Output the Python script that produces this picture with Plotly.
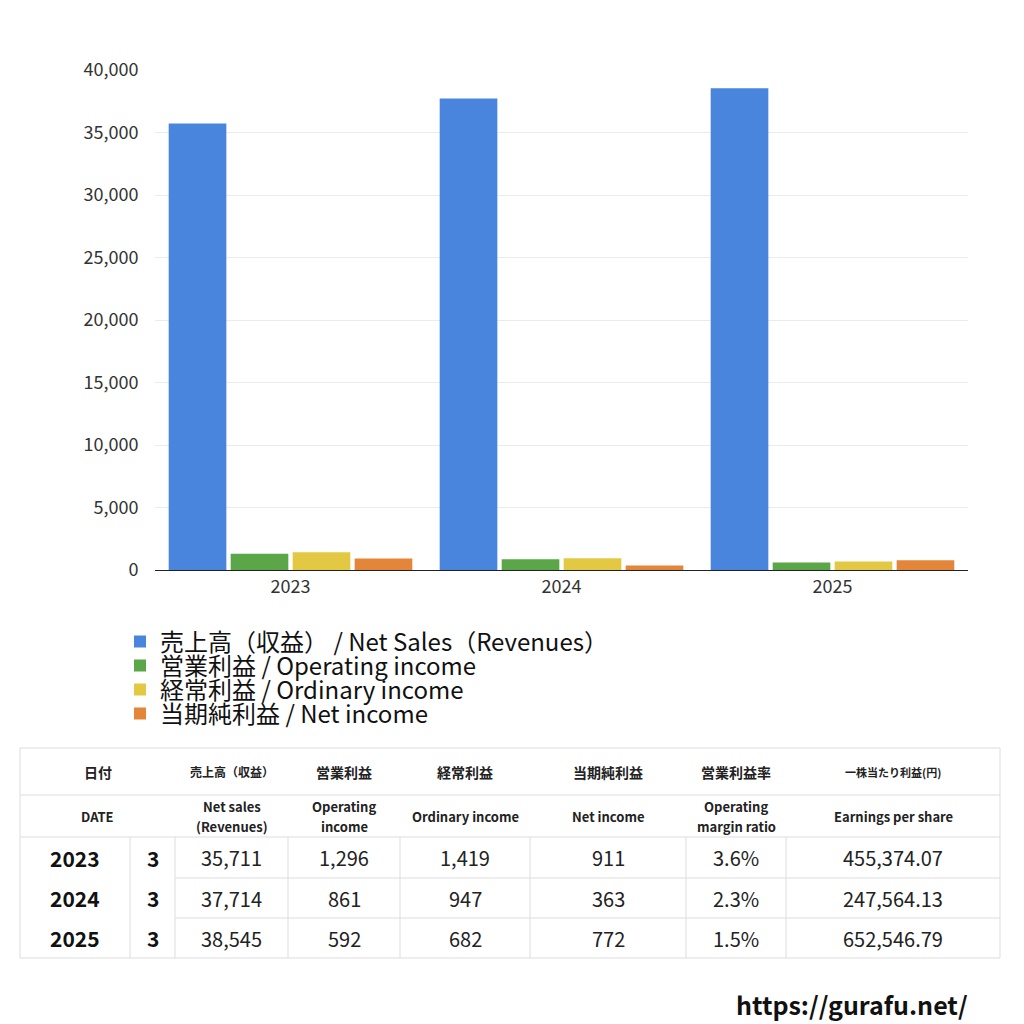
import plotly.graph_objects as go

# ---------------- data ----------------
years = ["2023", "2024", "2025"]
months = ["3", "3", "3"]
net_sales = [35711, 37714, 38545]
operating_income = [1296, 861, 592]
ordinary_income = [1419, 947, 682]
net_income = [911, 363, 772]
op_margin = ["3.6%", "2.3%", "1.5%"]
eps = ["455,374.07", "247,564.13", "652,546.79"]

series_names = [
    "売上高（収益） / Net Sales（Revenues）",
    "営業利益 / Operating income",
    "経常利益 / Ordinary income",
    "当期純利益 / Net income",
]
header_jp = ["日付", "売上高（収益）", "営業利益", "経常利益", "当期純利益", "営業利益率", "一株当たり利益(円)"]
header_en = [["DATE"], ["Net sales", "(Revenues)"], ["Operating", "income"], ["Ordinary income"],
             ["Net income"], ["Operating", "margin ratio"], ["Earnings per share"]]

# ---------------- styles ----------------
OFF = 8          # page body margin of the browser
W = H = 1016
FONT = "Noto Sans CJK JP, Noto Sans, sans-serif"
colors = ["#4a85dd", "#5aa648", "#e3c843", "#e4863a"]

def px(x):
    return (x - OFF) / W

def py(y):
    return 1 - (y - OFF) / H

fig = go.Figure()
legend_rows = [642, 666, 690, 714]
legend_ids = ["legend", "legend2", "legend3", "legend4"]
for name, vals, c, lid in zip(series_names,
                              [net_sales, operating_income, ordinary_income, net_income],
                              colors, legend_ids):
    fig.add_trace(go.Bar(x=years, y=vals, name=name, legend=lid,
                         marker=dict(color=c, line=dict(width=0)),
                         hoverinfo="x+y"))

legend_style = dict(xanchor="left", yanchor="middle",
                    font=dict(size=24, color="#111", family=FONT),
                    bgcolor="rgba(0,0,0,0)", itemclick=False, borderwidth=0)
layout_legends = {}
for lid, row in zip(legend_ids, legend_rows):
    layout_legends[lid] = dict(x=px(120), y=py(row), **legend_style)

fig.update_layout(
    width=W, height=H,
    margin=dict(l=0, r=0, t=0, b=0),
    paper_bgcolor="white", plot_bgcolor="white",
    font=dict(family=FONT, color="#333"),
    barmode="group", bargap=0.085, bargroupgap=0.07,
    xaxis=dict(domain=[px(155), px(968)], showline=True, linecolor="#222", linewidth=1,
               ticks="", tickfont=dict(size=18, color="#333"), automargin=False,
               showgrid=False),
    yaxis=dict(domain=[py(570), py(70)], range=[0, 40000], tick0=0, dtick=5000,
               tickformat=",d", gridcolor="#ebebeb", gridwidth=1, zeroline=False,
               tickfont=dict(size=18, color="#333"), automargin=False, ticklen=12,
               ticks="outside", tickcolor="rgba(0,0,0,0)"),
    showlegend=True,
    **layout_legends,
)

# ---------------- table ----------------
col_edges = [20, 130, 175, 288, 400, 530, 686, 786, 1000]
row_edges = [748, 795, 837, 878, 918, 958]
grid_color = "#dddddd"
shapes = []
ann = []

def hline(y, x0, x1):
    shapes.append(dict(type="line", xref="paper", yref="paper", x0=px(x0), x1=px(x1),
                       y0=py(y), y1=py(y), line=dict(color=grid_color, width=1)))

def vline(x, y0, y1):
    shapes.append(dict(type="line", xref="paper", yref="paper", x0=px(x), x1=px(x),
                       y0=py(y0), y1=py(y1), line=dict(color=grid_color, width=1)))

hline(row_edges[0], col_edges[0], col_edges[-1])
hline(row_edges[1], col_edges[0], col_edges[-1])
hline(row_edges[2], col_edges[0], col_edges[-1])
hline(row_edges[3], col_edges[2], col_edges[-1])
hline(row_edges[4], col_edges[2], col_edges[-1])
hline(row_edges[5], col_edges[0], col_edges[-1])
vline(col_edges[0], row_edges[0], row_edges[-1])
vline(col_edges[-1], row_edges[0], row_edges[-1])
for x in col_edges[1:-1]:
    vline(x, row_edges[2], row_edges[-1])

def text(x, y, s, size, bold=False, color="#222"):
    ann.append(dict(xref="paper", yref="paper", x=px(x), y=py(y), text=(f"<b>{s}</b>" if bold else s),
                    showarrow=False, xanchor="center", yanchor="middle",
                    font=dict(size=size, color=color, family=FONT)))

hdr_centers = [(col_edges[0] + col_edges[2]) / 2] + [
    (col_edges[i] + col_edges[i + 1]) / 2 for i in range(2, len(col_edges) - 1)]
jp_sizes = [14, 12, 14, 14, 14, 14, 11]
for cx, s, fs in zip(hdr_centers, header_jp, jp_sizes):
    text(cx, (row_edges[0] + row_edges[1]) / 2, s, fs, bold=True)
mid2 = (row_edges[1] + row_edges[2]) / 2
for cx, lines in zip(hdr_centers, header_en):
    if len(lines) == 1:
        text(cx, mid2, lines[0], 13, bold=True)
    else:
        text(cx, mid2 - 10, lines[0], 13, bold=True)
        text(cx, mid2 + 10, lines[1], 13, bold=True)

col_centers = [(col_edges[i] + col_edges[i + 1]) / 2 for i in range(len(col_edges) - 1)]
for r in range(len(years)):
    cy = (row_edges[2 + r] + row_edges[3 + r]) / 2
    text(col_centers[0], cy, years[r], 21, bold=True, color="#111")
    text(col_centers[1], cy, months[r], 21, bold=True, color="#111")
    vals = [f"{net_sales[r]:,}", f"{operating_income[r]:,}", f"{ordinary_income[r]:,}",
            f"{net_income[r]:,}", op_margin[r], eps[r]]
    for c, v in enumerate(vals):
        text(col_centers[2 + c], cy, v, 20, color="#222")

ann.append(dict(xref="paper", yref="paper", x=px(970), y=py(1004), text="https://gurafu.net/",
                showarrow=False, xanchor="right", yanchor="middle",
                font=dict(size=25, color="#111", family=FONT, weight=600)))

fig.update_layout(shapes=shapes, annotations=ann)
fig.write_html("out.html")
